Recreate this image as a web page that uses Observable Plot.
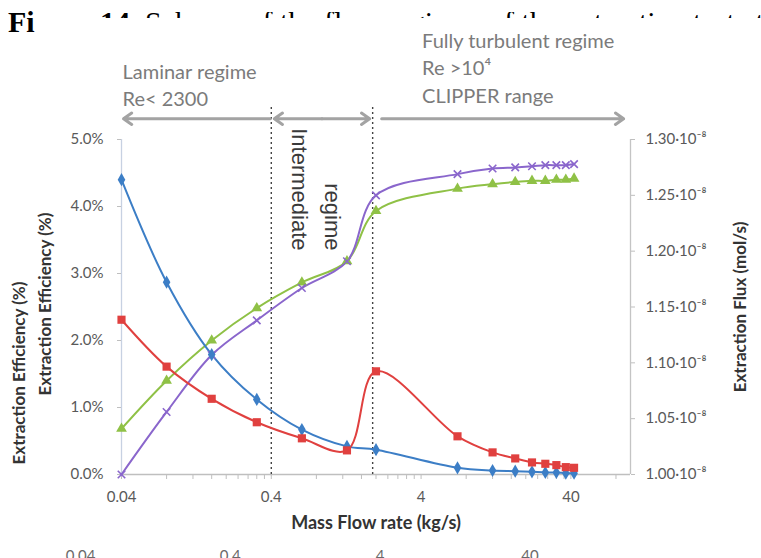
<!DOCTYPE html>
<html>
<head>
<meta charset="utf-8">
<script src="https://cdn.jsdelivr.net/npm/d3@7"></script>
<script src="https://cdn.jsdelivr.net/npm/@observablehq/plot@0.6"></script>
<style>
  html, body { margin: 0; padding: 0; background: #fff; }
  #wrap { position: relative; width: 761px; height: 558px; overflow: hidden; background: #fff; }
  #chart { position: absolute; left: 0; top: 0; }
  .ttl { font-family: "Liberation Serif", serif; font-size: 30px; color: #000; white-space: nowrap; }
  #ttlFi { position: absolute; left: 8px; top: 5px; line-height: 34px; font-weight: bold; }
  #ttlClip { position: absolute; left: 8px; top: 12px; width: 753px; height: 6px; overflow: hidden; }
  #ttlRest { position: relative; top: 7px; line-height: 6px; }
</style>
</head>
<body>
<div id="wrap">
  <div id="chart"></div>
  <div id="ttlClip"><div class="ttl" id="ttlRest"><b><span style="visibility:hidden">Figure</span> 14.</b> Scheme of the flow regimes of the extraction test at constant temperature</div></div>
  <div class="ttl" id="ttlFi">Fi</div>
</div>
<script>
// ---- data ----
const flow = [0.04, 0.08, 0.16, 0.32, 0.64, 1.28, 2, 7, 12, 17, 22, 27, 32, 37, 42]; // kg/s
const effBlue = [4.40, 2.87, 1.79, 1.12, 0.67, 0.42, 0.37, 0.10, 0.06, 0.05, 0.04, 0.03, 0.03, 0.02, 0.02]; // %
const effRed  = [2.31, 1.61, 1.13, 0.78, 0.54, 0.36, 1.54, 0.57, 0.33, 0.24, 0.18, 0.16, 0.14, 0.11, 0.10]; // %
const fluxGreen  = [1.041, 1.084, 1.120, 1.149, 1.172, 1.191, 1.236, 1.256, 1.260, 1.262, 1.263, 1.263, 1.264, 1.264, 1.265]; // ×10⁻⁸ mol/s
const fluxPurple = [1.000, 1.056, 1.107, 1.138, 1.167, 1.191, 1.250, 1.269, 1.274, 1.275, 1.276, 1.277, 1.277, 1.277, 1.278]; // ×10⁻⁸ mol/s

const effTicks = [0, 1, 2, 3, 4, 5];
const fluxTicks = [1.00, 1.05, 1.10, 1.15, 1.20, 1.25, 1.30];
const xMajor = [0.04, 0.4, 4, 40];
const xMinorMult = [2, 3, 4, 5, 6, 7, 8, 9];
const xDomain = [0.04, 100];
const regimeBounds = [0.4, 1.9];
const turbulentEnd = 90;
const laminarText = "Laminar regime\nRe< 2300";
const turbulentText = "Fully turbulent regime\nRe >10⁴\nCLIPPER range";
const interText = ["Intermediate", "regime"];
const yTitle = "Extraction Efficiency (%)";
const y2Title = "Extraction Flux (mol/s)";
const xTitle = "Mass Flow rate (kg/s)";

// flux axis (right) mapped onto the efficiency scale (left)
const fluxMin = 1.00, fluxMax = 1.30, effMax = 5;
const fluxToEff = f => (f - fluxMin) / (fluxMax - fluxMin) * effMax;
const effToFlux = e => fluxMin + e / effMax * (fluxMax - fluxMin);

const blue = "#3c7ec6", red = "#e0403f", green = "#8fc146", purple = "#8a66cc";

const rows = (ys, map = d => d) => flow.map((x, i) => ({x, y: map(ys[i])}));
const sBlue = rows(effBlue), sRed = rows(effRed);
const sGreen = rows(fluxGreen, fluxToEff), sPurple = rows(fluxPurple, fluxToEff);

const xTicks = [];
for (const m of xMajor) { xTicks.push(m); for (const k of xMinorMult) if (m * k <= xDomain[1]) xTicks.push(m * k); }

const arrowLevel = 5.31;
const arrowStyle = {stroke: "#a3a3a3", strokeWidth: 3, headLength: 5, headAngle: 70};
const interMid = Math.sqrt(regimeBounds[0] * regimeBounds[1]);
const titleStyle = {fontWeight: "bold", fill: "#333", textAnchor: "middle", lineAnchor: "middle"};

const chart = Plot.plot({
  width: 761, height: 558,
  marginLeft: 121, marginRight: 131, marginTop: 139, marginBottom: 84,
  x: {type: "log", domain: xDomain},
  y: {domain: [0, effMax]},
  style: {fontFamily: "Lato, sans-serif", fontSize: "15px", background: "transparent", color: "#595959"},
  marks: [
    // axis lines
    Plot.ruleY([0], {stroke: "#bfbfbf", strokeWidth: 1.3}),
    Plot.ruleX([xDomain[0]], {y1: 0, y2: effMax, stroke: "#c7d1e2", strokeWidth: 1.3}),
    Plot.ruleX([xDomain[1]], {y1: 0, y2: effMax, stroke: "#c4c4c4", strokeWidth: 1.3}),
    // x ticks (major + minor) and x tick labels
    Plot.axisX(xTicks, {tickSize: 5, stroke: "#bfbfbf", tickFormat: () => "", label: null}),
    Plot.text(xMajor, {x: d => d, frameAnchor: "bottom", dy: 23, lineAnchor: "middle",
      text: d => String(d), fill: "#595959", fontSize: 15}),
    // faint duplicate tick row at the bottom edge of the scan
    Plot.text(xMajor, {x: d => d, frameAnchor: "bottom", dy: 82, dx: -41, lineAnchor: "middle",
      text: d => String(d), fill: "#6a6a6a", fontSize: 15}),
    Plot.axisY(effTicks, {anchor: "left", tickSize: 4, tickPadding: 14, stroke: "#bfbfbf", fill: "#595959",
      fontSize: 15, tickFormat: d => d.toFixed(1) + "%", label: null}),
    Plot.axisY(fluxTicks.map(fluxToEff), {anchor: "right", tickSize: 4, tickPadding: 11, stroke: "#bfbfbf",
      fill: "#595959", fontSize: 15, tickFormat: d => effToFlux(d).toFixed(2) + "·10⁻⁸", label: null}),
    // axis titles
    Plot.text([yTitle], {frameAnchor: "left", dx: -102, dy: 66, rotate: -90, fontSize: 17, ...titleStyle}),
    Plot.text([yTitle], {frameAnchor: "left", dx: -76, dy: -3, rotate: -90, fontSize: 17, ...titleStyle}),
    Plot.text([y2Title], {frameAnchor: "right", dx: 110, dy: 0, rotate: -90, fontSize: 17, ...titleStyle}),
    Plot.text([xTitle], {frameAnchor: "bottom", dy: 49, fontSize: 18, ...titleStyle}),
    // regime boundaries
    Plot.ruleX(regimeBounds, {y1: 0, y2: 5.5, stroke: "#444", strokeWidth: 1.4, strokeDasharray: "2,3"}),
    // regime arrows
    Plot.arrow([0], {x1: regimeBounds[0], x2: xDomain[0], y1: arrowLevel, y2: arrowLevel, insetEnd: 2, insetStart: 1, ...arrowStyle}),
    Plot.arrow([0], {x1: interMid, x2: regimeBounds[0], y1: arrowLevel, y2: arrowLevel, insetEnd: 3, ...arrowStyle}),
    Plot.arrow([0], {x1: interMid, x2: regimeBounds[1], y1: arrowLevel, y2: arrowLevel, insetEnd: 3, ...arrowStyle}),
    Plot.arrow([0], {x1: regimeBounds[1], x2: turbulentEnd, y1: arrowLevel, y2: arrowLevel, insetStart: 9, ...arrowStyle}),
    // regime texts
    Plot.text([laminarText], {x: [xDomain[0]], frameAnchor: "top", dx: 1, dy: -56, textAnchor: "start", lineAnchor: "middle",
      lineHeight: 1.35, fontSize: 20, fill: "#7b7b7b"}),
    Plot.text([turbulentText], {x: [xMajor[2]], frameAnchor: "top", dx: 1, dy: -111, textAnchor: "start", lineAnchor: "top",
      lineHeight: 1.37, fontSize: 20, fill: "#7b7b7b"}),
    Plot.text([interText[0]], {x: [interMid], frameAnchor: "top", dx: -23, dy: 111, rotate: 90, textAnchor: "end",
      lineAnchor: "middle", fontFamily: "Liberation Sans, sans-serif", fontSize: 22, fill: "#3a3a3a"}),
    Plot.text([interText[1]], {x: [interMid], frameAnchor: "top", dx: 10, dy: 111, rotate: 90, textAnchor: "end",
      lineAnchor: "middle", fontFamily: "Liberation Sans, sans-serif", fontSize: 22, fill: "#3a3a3a"}),
    // series
    Plot.line(sGreen, {x: "x", y: "y", stroke: green, strokeWidth: 2, curve: "catmull-rom"}),
    Plot.line(sPurple, {x: "x", y: "y", stroke: purple, strokeWidth: 2, curve: "catmull-rom"}),
    Plot.line(sBlue, {x: "x", y: "y", stroke: blue, strokeWidth: 2, curve: "catmull-rom"}),
    Plot.line(sRed, {x: "x", y: "y", stroke: red, strokeWidth: 2, curve: "catmull-rom"}),
    Plot.dot(sGreen, {x: "x", y: "y", symbol: "triangle", r: 4, fill: green}),
    Plot.dot(sPurple, {x: "x", y: "y", symbol: "times", r: 3.5, stroke: purple, strokeWidth: 1.6}),
    Plot.dot(sBlue, {x: "x", y: "y", symbol: "diamond", r: 4, fill: blue}),
    Plot.dot(sRed, {x: "x", y: "y", symbol: "square", r: 4.6, fill: red})
  ]
});
document.getElementById("chart").append(chart);
</script>
</body>
</html>
